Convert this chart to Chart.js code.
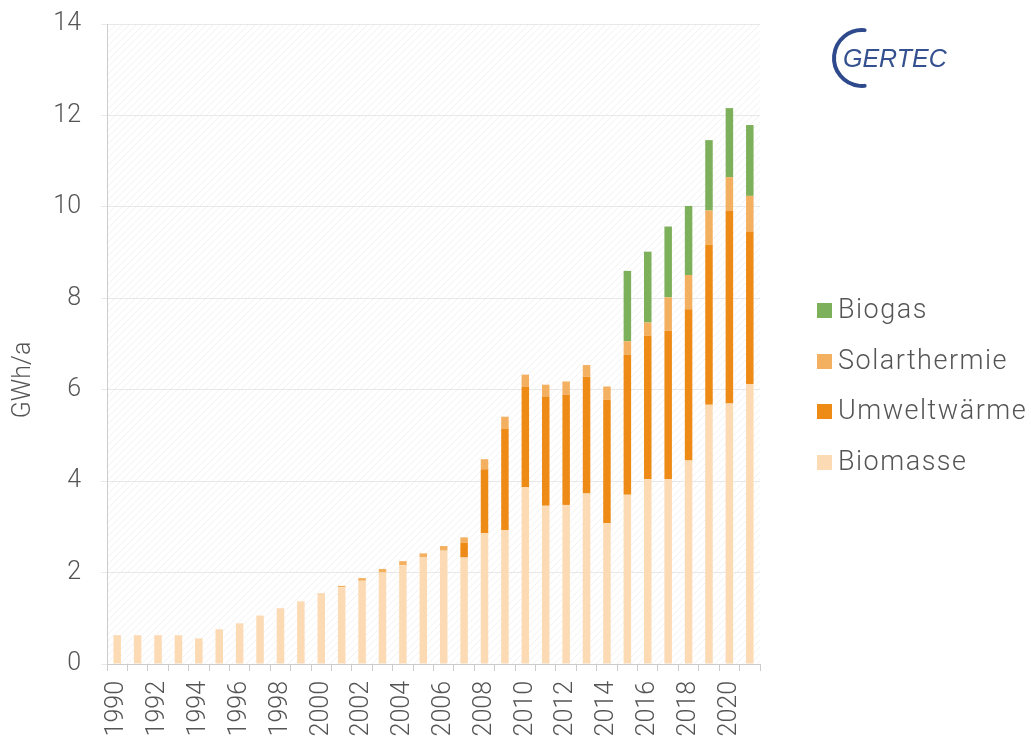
<!DOCTYPE html>
<html>
<head>
<meta charset="utf-8">
<title>Erneuerbare Wärme</title>
<script src="https://cdn.jsdelivr.net/npm/chart.js@4"></script>
<style>
  html, body { margin: 0; padding: 0; background: #fff; }
  .wrap { width: 1031px; height: 745px; }
</style>
</head>
<body>
<div class="wrap"><canvas id="myChart" width="1031" height="745"></canvas></div>
<script>
'use strict';

/* DATA */

const years = [];
for (let y = 1990; y <= 2021; y++) years.push(String(y));

const biomasse = [0.63, 0.63, 0.63, 0.63, 0.56, 0.76, 0.89, 1.06, 1.22, 1.37, 1.52, 1.68, 1.82, 2.00, 2.16, 2.33,
                  2.48, 2.33, 2.86, 2.93, 3.87, 3.46, 3.48, 3.73, 3.08, 3.70, 4.04, 4.04, 4.45, 5.67, 5.70, 6.12];
const umweltwaerme = [0, 0, 0, 0, 0, 0, 0, 0, 0, 0, 0, 0, 0, 0, 0, 0,
                      0, 0.32, 1.40, 2.22, 2.20, 2.39, 2.41, 2.55, 2.70, 3.06, 3.14, 3.25, 3.31, 3.50, 4.21, 3.34];
const solarthermie = [0, 0, 0, 0, 0, 0, 0, 0, 0, 0, 0.02, 0.03, 0.06, 0.08, 0.09, 0.09,
                      0.10, 0.12, 0.22, 0.26, 0.26, 0.26, 0.29, 0.26, 0.29, 0.30, 0.29, 0.73, 0.75, 0.75, 0.74, 0.78];
const biogas = [0, 0, 0, 0, 0, 0, 0, 0, 0, 0, 0, 0, 0, 0, 0, 0,
                0, 0, 0, 0, 0, 0, 0, 0, 0, 1.54, 1.55, 1.55, 1.51, 1.54, 1.51, 1.55];

const yTicks = [0, 2, 4, 6, 8, 10, 12, 14];

const textColor = '#555555';
const fontFamily = 'Roboto, "Liberation Sans", sans-serif';

/* PLUGINS */

// faint diagonal hatch behind the bars
const hatchPlugin = {
  id: 'hatch',
  beforeDraw(chart) {
    const a = chart.chartArea;
    const c = chart.ctx;
    const tile = document.createElement('canvas');
    tile.width = 7;
    tile.height = 7;
    const t = tile.getContext('2d');
    t.strokeStyle = 'rgba(0,0,0,0.05)';
    t.lineWidth = 1;
    t.beginPath();
    t.moveTo(-1, 8);
    t.lineTo(8, -1);
    t.stroke();
    c.save();
    c.fillStyle = c.createPattern(tile, 'repeat');
    c.fillRect(a.left, a.top, a.right - a.left, a.bottom - a.top);
    c.restore();
  }
};

// legend, axis title and logo
const extrasPlugin = {
  id: 'extras',
  afterDraw(chart) {
    const c = chart.ctx;
    c.save();

    // y title
    c.fillStyle = textColor;
    c.font = '300 25px ' + fontFamily;
    c.textAlign = 'center';
    c.textBaseline = 'middle';
    c.translate(24, 380);
    c.rotate(-Math.PI / 2);
    c.fillText('GWh/a', 0, 0);
    c.restore();

    // legend (top to bottom = reverse stack order)
    c.save();
    const sets = chart.data.datasets.slice().reverse();
    const rowY = [310, 361, 411, 462];
    c.font = '300 27px ' + fontFamily;
    c.textAlign = 'left';
    c.textBaseline = 'middle';
    if ('letterSpacing' in c) c.letterSpacing = '1.5px';
    sets.forEach(function(ds, i) {
      c.fillStyle = ds.backgroundColor;
      c.fillRect(817, rowY[i] - 7, 15, 15);
      c.fillStyle = textColor;
      c.fillText(ds.label, 838, rowY[i] + 1);
    });
    c.restore();

    // logo
    c.save();
    c.strokeStyle = '#2e4a8c';
    c.lineWidth = 4;
    c.lineCap = 'round';
    c.beginPath();
    c.arc(862, 58, 28, -Math.PI * 0.47, Math.PI * 0.47, true);
    c.stroke();
    c.fillStyle = '#34508f';
    c.font = 'italic 25px "Liberation Sans Narrow", "Liberation Sans", sans-serif';
    c.textAlign = 'left';
    c.textBaseline = 'middle';
    c.fillText('GERTEC', 843, 60);
    c.restore();
  }
};

/* CHART */

const ctx = document.getElementById('myChart').getContext('2d');
const chart = new Chart(ctx, {
  type: 'bar',
  data: {
    labels: years,
    datasets: [
      { label: 'Biomasse', backgroundColor: '#fcdab4', data: biomasse },
      { label: 'Umweltwärme', backgroundColor: '#ee8b17', data: umweltwaerme },
      { label: 'Solarthermie', backgroundColor: '#f4b061', data: solarthermie },
      { label: 'Biogas', backgroundColor: '#7db05a', data: biogas }
    ]
  },
  options: {
    responsive: false,
    animation: false,
    layout: { padding: { top: 24, right: 271, left: 0, bottom: 0 } },
    datasets: {
      bar: { barPercentage: 0.46, categoryPercentage: 0.8, borderWidth: 0 }
    },
    plugins: {
      legend: { display: false },
      tooltip: { enabled: false }
    },
    scales: {
      x: {
        stacked: true,
        afterFit(scale) {
          scale.height = 81;
          scale.paddingLeft = 0;
          scale.paddingRight = 0;
        },
        grid: { drawOnChartArea: false, color: '#cccccc', tickLength: 7, offset: true },
        border: { color: '#cccccc' },
        ticks: {
          autoSkip: false,
          maxRotation: 90,
          minRotation: 90,
          padding: 10,
          color: textColor,
          font: { family: fontFamily, size: 25, weight: 300 },
          callback: function(v, i) { return i % 2 === 0 ? years[i] : ''; }
        }
      },
      y: {
        stacked: true,
        min: 0,
        max: 14,
        afterFit(scale) {
          scale.width = 107;
          scale.paddingTop = 0;
          scale.paddingBottom = 0;
        },
        afterBuildTicks(scale) { scale.ticks = yTicks.map(function(v) { return { value: v }; }); },
        grid: { color: '#e8e8e8', tickLength: 6 },
        border: { color: '#cccccc' },
        ticks: {
          padding: 20,
          color: textColor,
          font: { family: fontFamily, size: 25, weight: 300 }
        }
      }
    }
  },
  plugins: [hatchPlugin, extrasPlugin]
});
</script>
</body>
</html>
